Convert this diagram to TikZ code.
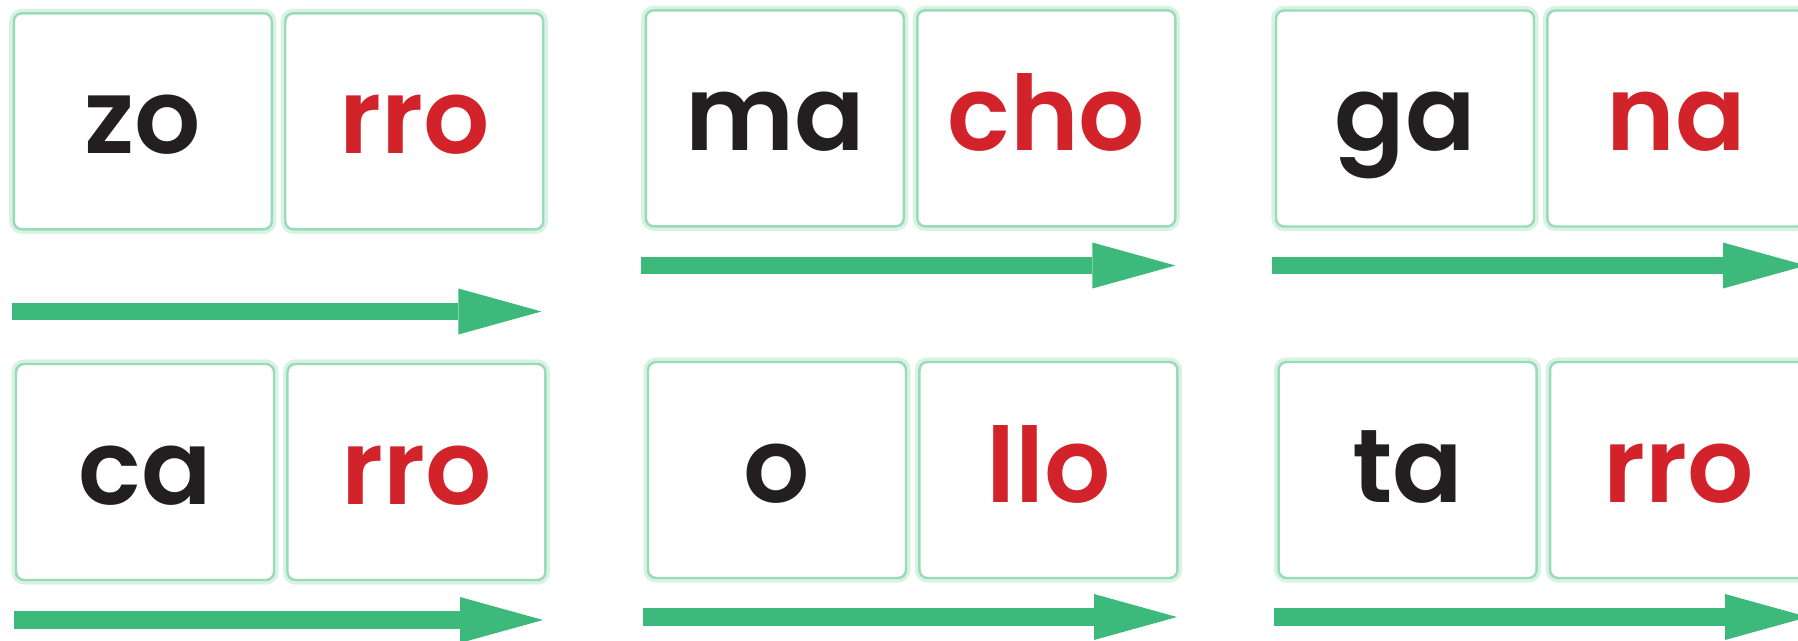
\documentclass[tikz,border=0pt]{standalone}
\usepackage{fontspec}
\setmainfont{Poppins}[BoldFont={Poppins SemiBold}]
\usetikzlibrary{positioning,arrows.meta}
\definecolor{verde}{HTML}{3CB97B}
\definecolor{bordo}{HTML}{9ADBB7}
\definecolor{alone}{HTML}{D8F2E4}
\definecolor{rosso}{HTML}{D2232A}
\definecolor{nero}{HTML}{231F20}
\tikzset{
  sillaba/.style={draw=bordo, line width=0.7pt, fill=white, rounded corners=0.8mm,
    minimum width=2.58cm, minimum height=2.16cm, inner sep=0pt,
    text height=0.64cm, text depth=0cm,
    font=\fontsize{29.6}{32}\selectfont\bfseries,
    preaction={draw=alone, line width=2.6pt}},
  freccia/.style={verde, line width=0.177cm, -{Triangle[length=0.83cm,width=0.46cm,line width=0pt]}}
}
\begin{document}
\begin{tikzpicture}
        \useasboundingbox (0,0) rectangle (17.98,6.40);
        %riga superiore
        \node[sillaba,text=nero] (zo) at (1.428,5.187) {zo};
        \node[sillaba,text=rosso,right=0.11cm of zo] (rroA) {rro};
        \node[sillaba,text=nero] (ma) at (7.748,5.217) {ma};
        \node[sillaba,text=rosso,right=0.11cm of ma] (cho) {cho};
        \node[sillaba,text=nero] (ga) at (14.05,5.215) {ga};
        \node[sillaba,text=rosso,right=0.11cm of ga] (na) {na};
        %riga inferiore
        \node[sillaba,text=nero] (ca) at (1.45,1.68) {ca};
        \node[sillaba,text=rosso,right=0.11cm of ca] (rroB) {rro};
        \node[sillaba,text=nero] (o) at (7.77,1.70) {o};
        \node[sillaba,text=rosso,right=0.11cm of o] (llo) {llo};
        \node[sillaba,text=nero] (ta) at (14.076,1.70) {ta};
        \node[sillaba,text=rosso,right=0.11cm of ta] (rroC) {rro};
        % frecce
        \coordinate (zoS) at (0.118,3.285);
        \coordinate (zoE) at (5.414,3.285);
        \coordinate (maS) at (6.41,3.745);
        \coordinate (maE) at (11.754,3.745);
        \coordinate (gaS) at (12.717,3.745);
        \coordinate (gaE) at (18.06,3.745);
        \coordinate (caS) at (0.14,0.20);
        \coordinate (caE) at (5.43,0.20);
        \coordinate (oS) at (6.43,0.23);
        \coordinate (oE) at (11.77,0.23);
        \coordinate (taS) at (12.738,0.23);
        \coordinate (taE) at (18.08,0.23);
        \draw[freccia] (zoS) -- (zoE);
        \draw[freccia] (maS) -- (maE);
        \draw[freccia] (gaS) -- (gaE);
        \draw[freccia] (caS) -- (caE);
        \draw[freccia] (oS) -- (oE);
        \draw[freccia] (taS) -- (taE);
    \end{tikzpicture}
\end{document}
